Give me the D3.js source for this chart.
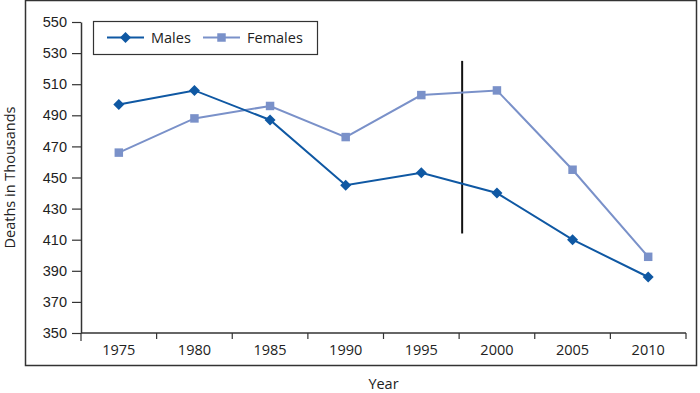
<!DOCTYPE html>
<html>
<head>
<meta charset="utf-8">
<script src="https://cdn.jsdelivr.net/npm/d3@7"></script>
<style>
  html, body { margin: 0; padding: 0; background: #fff; }
  svg { display: block; font-family: "Open Sans", Lato, sans-serif; }
</style>
</head>
<body>
<svg id="chart" width="700" height="393"></svg>
<script>
// data
const years = ['1975', '1980', '1985', '1990', '1995', '2000', '2005', '2010'];
const males = [497, 506, 487, 445, 453, 440, 410, 386];
const females = [466, 488, 496, 476, 503, 506, 455, 399];
const yTicks = [350, 370, 390, 410, 430, 450, 470, 490, 510, 530, 550];
const breakYear = 1997.7;       // where the vertical divider sits
const breakRange = [414, 525];  // divider extent in thousands

const MARGINS = { top: 22, bottom: 60, left: 81, right: 14 };
const COLORS = { males: '#0f58a3', females: '#7a91c9', axis: '#333' };
const FONT_SIZE = 14.5;

const svg = d3.select('#chart');
const width = +svg.attr('width');
const chartWidth = width - MARGINS.left - MARGINS.right;
const chartHeight = 333 - MARGINS.top;

const scaleX = d3.scaleBand()
  .domain(years)
  .range([MARGINS.left, MARGINS.left + chartWidth]);

const scaleY = d3.scaleLinear()
  .domain([350, 550])
  .range([MARGINS.top + chartHeight, MARGINS.top]);

const cx = d => scaleX(d) + scaleX.bandwidth() / 2;

// outer frame
svg.append('rect')
  .attr('x', 25.5).attr('y', 0.5)
  .attr('width', 671).attr('height', 365)
  .attr('fill', 'none')
  .attr('stroke', COLORS.axis)
  .attr('stroke-width', 1.5);

// y axis
const axisY = svg.append('g')
  .attr('transform', `translate(${MARGINS.left}, 0)`)
  .call(d3.axisLeft(scaleY).tickValues(yTicks).tickSize(9).tickPadding(5).tickSizeOuter(0));
axisY.select('.domain').attr('stroke', COLORS.axis).attr('stroke-width', 1.5);
axisY.selectAll('line').attr('stroke', COLORS.axis).attr('stroke-width', 1.2);
axisY.selectAll('text').attr('font-size', FONT_SIZE).attr('fill', '#222');

// x axis: ticks on band boundaries
const axisX = svg.append('g')
  .attr('transform', `translate(0, ${MARGINS.top + chartHeight})`);
axisX.append('line')
  .attr('x1', MARGINS.left).attr('x2', MARGINS.left + chartWidth)
  .attr('stroke', COLORS.axis).attr('stroke-width', 1.5);
const bounds = years.map(y => scaleX(y)).concat([MARGINS.left + chartWidth]);
axisX.selectAll('.tick-mark')
  .data(bounds)
  .join('line')
  .attr('class', 'tick-mark')
  .attr('x1', d => d).attr('x2', d => d)
  .attr('y1', 0).attr('y2', (d, i) => i === 0 ? 8 : 6)
  .attr('stroke', COLORS.axis).attr('stroke-width', 1.2);
axisX.selectAll('.tick-label')
  .data(years)
  .join('text')
  .attr('class', 'tick-label')
  .attr('x', d => cx(d))
  .attr('y', 22)
  .attr('text-anchor', 'middle')
  .attr('font-size', FONT_SIZE)
  .attr('fill', '#222')
  .text(d => d);

// axis titles
svg.append('text')
  .attr('x', MARGINS.left + chartWidth / 2)
  .attr('y', 389)
  .attr('text-anchor', 'middle')
  .attr('font-size', FONT_SIZE)
  .attr('fill', '#222')
  .text('Year');
svg.append('text')
  .attr('transform', `translate(15, ${MARGINS.top + chartHeight / 2}) rotate(-90)`)
  .attr('text-anchor', 'middle')
  .attr('font-size', FONT_SIZE)
  .attr('fill', '#222')
  .text('Deaths in Thousands');

// vertical divider
const step = scaleX.step();
const breakX = cx('1995') + (breakYear - 1995) / 5 * step;
svg.append('line')
  .attr('x1', breakX).attr('x2', breakX)
  .attr('y1', scaleY(breakRange[0])).attr('y2', scaleY(breakRange[1]))
  .attr('stroke', '#111').attr('stroke-width', 2);

// series
const line = d3.line().x((d, i) => cx(years[i])).y(d => scaleY(d));
// square turned 45 degrees, wider than d3.symbolDiamond
const diamond = 'M0,-5.5L5.5,0L0,5.5L-5.5,0Z';
const square = d3.symbol().type(d3.symbolSquare).size(72)();

svg.append('path').datum(females)
  .attr('d', line).attr('fill', 'none')
  .attr('stroke', COLORS.females).attr('stroke-width', 2);
svg.append('g').selectAll('path')
  .data(females)
  .join('path')
  .attr('d', square)
  .attr('transform', (d, i) => `translate(${cx(years[i])}, ${scaleY(d)})`)
  .attr('fill', COLORS.females);

svg.append('path').datum(males)
  .attr('d', line).attr('fill', 'none')
  .attr('stroke', COLORS.males).attr('stroke-width', 2);
svg.append('g').selectAll('path')
  .data(males)
  .join('path')
  .attr('d', diamond)
  .attr('transform', (d, i) => `translate(${cx(years[i])}, ${scaleY(d)})`)
  .attr('fill', COLORS.males);

// legend
const legend = svg.append('g');
legend.append('rect')
  .attr('x', 93.5).attr('y', 21.5)
  .attr('width', 224).attr('height', 33)
  .attr('fill', '#fff')
  .attr('stroke', COLORS.axis).attr('stroke-width', 1.2);
const legendItems = [
  { name: 'Males', color: COLORS.males, symbol: diamond, x: 107 },
  { name: 'Females', color: COLORS.females, symbol: square, x: 203 }
];
legendItems.forEach(item => {
  legend.append('line')
    .attr('x1', item.x).attr('x2', item.x + 37)
    .attr('y1', 37.5).attr('y2', 37.5)
    .attr('stroke', item.color).attr('stroke-width', 2);
  legend.append('path')
    .attr('d', item.symbol)
    .attr('transform', `translate(${item.x + 18.5}, 37.5)`)
    .attr('fill', item.color);
  legend.append('text')
    .attr('x', item.x + 44)
    .attr('y', 42.5)
    .attr('font-size', FONT_SIZE)
    .attr('fill', '#222')
    .text(item.name);
});
</script>
</body>
</html>
